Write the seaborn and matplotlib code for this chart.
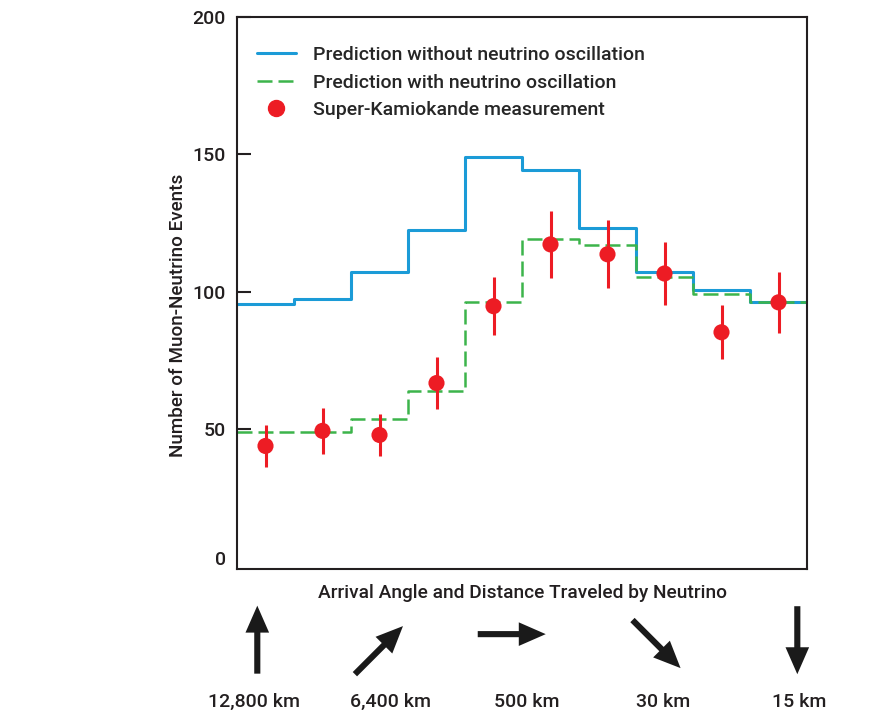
import matplotlib
matplotlib.use("Agg")
import matplotlib.pyplot as plt
import matplotlib.transforms as mtransforms
from matplotlib.lines import Line2D
from matplotlib.patches import ArrowStyle
import numpy as np
import seaborn as sns

sns.set_theme(style="white")
plt.rcParams['font.family'] = ['Roboto', 'DejaVu Sans']
plt.rcParams['font.weight'] = 'medium'
plt.rcParams['axes.labelweight'] = 'medium'

# bins of arrival angle (10 bins, upward-going on the left)
bin_edges = np.arange(0, 11)
bin_centers = bin_edges[:-1] + 0.5

# predictions
no_oscillation = [95.5, 97.3, 107, 122.4, 149, 144.3, 123, 107, 100.5, 96.3]
with_oscillation = [48.8, 48.8, 53.5, 63.8, 96.2, 119.3, 117, 105.2, 99.2, 96.1]

# Super-Kamiokande data
measured = [43.8, 49.3, 47.8, 66.7, 94.7, 117.2, 113.6, 106.6, 85.2, 96.1]
measured_err = [7.5, 8.3, 7.7, 9.5, 10.6, 12.3, 12.3, 11.4, 9.9, 11.0]

# direction arrows under the plot
arrow_x = [0.356, 2.49, 4.82, 7.36, 9.83]
arrow_y = [-0.128, -0.147, -0.118, -0.136, -0.129]
arrow_angle = [90, 45, 0, -45, -90]
distance_labels = ["12,800 km", "6,400 km", "500 km", "30 km", "15 km"]
label_x = [0.30, 2.69, 5.09, 7.47, 9.86]

blue = "#1b9bd7"
green = "#3cb44b"
red = "#ed1c24"
ink = "#231f20"

fig = plt.figure(figsize=(8.76, 7.10), dpi=100)
ax = fig.add_axes([237 / 876, 141 / 710, 570 / 876, 552 / 710])

sns.lineplot(x=bin_edges, y=np.append(no_oscillation, no_oscillation[-1]),
             drawstyle="steps-post", color=blue, lw=2.2, ax=ax)
sns.lineplot(x=bin_edges, y=np.append(with_oscillation, with_oscillation[-1]),
             drawstyle="steps-post", color=green, lw=1.8,
             linestyle=(0, (6.0, 2.4)), ax=ax)
ax.errorbar(bin_centers, measured, yerr=measured_err, fmt="none",
            ecolor=red, elinewidth=2.2, capsize=0, zorder=3)
sns.scatterplot(x=bin_centers, y=measured, s=135, color=red,
                edgecolor="none", zorder=4, ax=ax)

ax.set_xlim(0, 10)
ax.set_ylim(-1, 200)
ax.set_xticks([])
ax.set_yticks([0, 50, 100, 150, 200])
ax.tick_params(axis="y", direction="in", length=10, width=1.5, color=ink,
               labelsize=14, labelcolor=ink, pad=8, left=True)
ax.yaxis.get_major_ticks()[0].tick1line.set_visible(False)
zero_lab = ax.get_yticklabels()[0]
zero_lab.set_transform(zero_lab.get_transform() +
                       mtransforms.ScaledTranslation(0, 8 / 100, fig.dpi_scale_trans))
for s in ax.spines.values():
    s.set_color(ink)
    s.set_linewidth(1.5)

ax.set_ylabel("Number of Muon-Neutrino Events", fontsize=13.6, color=ink)
ax.yaxis.set_label_coords(-0.088, 0.46)
ax.set_xlabel("Arrival Angle and Distance Traveled by Neutrino",
              fontsize=13.8, color=ink, labelpad=11)

handles = [
    Line2D([], [], color=blue, lw=2.2),
    Line2D([], [], color=green, lw=1.8, linestyle=(0, (6.0, 2.4))),
    Line2D([], [], color=red, marker="o", markersize=11.5, lw=0),
]
labels = ["Prediction without neutrino oscillation",
          "Prediction with neutrino oscillation",
          "Super-Kamiokande measurement"]
ax.legend(handles, labels, loc="upper left", bbox_to_anchor=(0.035, 0.947),
          frameon=False, fontsize=14, handlelength=2.0, handletextpad=0.9,
          labelspacing=0.48, borderaxespad=0, borderpad=0)

# arrows showing the arrival direction
trans = ax.get_xaxis_transform()
half_px = 34
for x, y, ang in zip(arrow_x, arrow_y, arrow_angle):
    dx = np.cos(np.radians(ang)) * half_px / 57
    dy = np.sin(np.radians(ang)) * half_px / 552
    ax.annotate("", xy=(x + dx, y + dy), xytext=(x - dx, y - dy),
                xycoords=trans, textcoords=trans, annotation_clip=False,
                arrowprops=dict(arrowstyle=ArrowStyle("simple", head_length=0.97,
                                                      head_width=0.85, tail_width=0.22),
                                mutation_scale=20, lw=0, fc="#1a1a1a", ec="none",
                                shrinkA=0, shrinkB=0))
for x, lab in zip(label_x, distance_labels):
    ax.text(x, -0.241, lab, transform=trans, ha="center", va="center",
            fontsize=14, color=ink)

fig.savefig("out.png", dpi=100)
